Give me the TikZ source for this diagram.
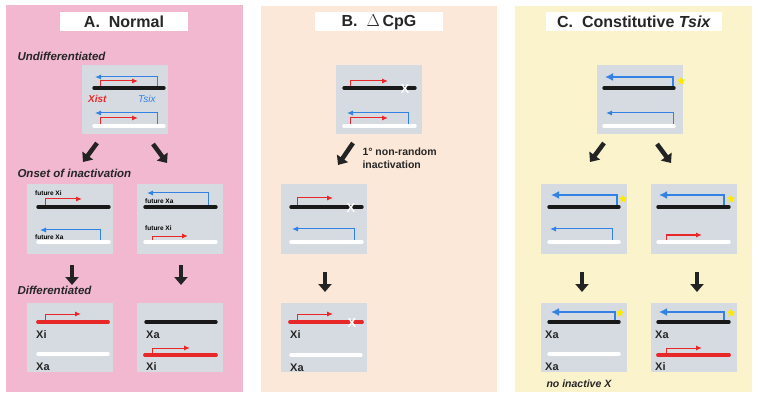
\documentclass[tikz,border=0pt]{standalone}
\usepackage{fontspec}
\setmainfont{Liberation Sans}
\usetikzlibrary{arrows.meta,positioning,calc,shapes.geometric}
\definecolor{pinkbg}{RGB}{241,184,208}
\definecolor{peachbg}{RGB}{252,232,216}
\definecolor{yellowbg}{RGB}{251,243,204}
\definecolor{boxgray}{RGB}{214,219,226}
\definecolor{xred}{RGB}{232,40,40}
\definecolor{tblue}{RGB}{50,130,230}
\definecolor{darkarr}{RGB}{35,35,35}

\begin{document}
\begin{tikzpicture}[
			x=1pt, y=-1pt,
			title/.style={fill=white, minimum width=128pt, minimum height=19pt, inner sep=0pt, font=\fontsize{16}{16}\selectfont\bfseries, text=black!85},
			gbox/.style={fill=boxgray, minimum width=86pt, minimum height=69pt, inner sep=0pt},
			stage/.style={anchor=west, font=\fontsize{11.5}{11.5}\selectfont\bfseries\itshape, text=black!85},
			chrb/.style={line width=3.4pt, line cap=round, black!90},
			chrw/.style={line width=3.4pt, line cap=round, white},
			chrr/.style={line width=3.8pt, line cap=round, xred},
			xist/.style={xred, line width=1pt, -{Latex[length=6pt,width=5pt]}},
			tsix/.style={tblue, line width=1pt, -{Latex[length=6pt,width=5pt]}},
			tsixon/.style={tblue, line width=2.6pt, -{Latex[length=8pt,width=8pt]}},
			bigarrow/.style={darkarr, line width=4.5pt, -{Triangle[length=8pt,width=13pt]}},
			tiny/.style={anchor=west, font=\fontsize{6.5}{6.5}\selectfont\bfseries, inner sep=0pt},
			xlab/.style={anchor=west, font=\fontsize{11}{11}\selectfont\bfseries, text=black!85, inner sep=0pt},
			cut/.style={font=\fontsize{13}{13}\selectfont\bfseries, text=white, inner sep=0pt},
			enh/.style={star, star points=5, star point ratio=2.2, fill=yellow!90!orange, draw=none, minimum size=9pt, inner sep=0pt}
		]

		\useasboundingbox (0,0) rectangle (762,403);

		% panels
		\fill[pinkbg] (6,5) rectangle (243,392);
		\fill[peachbg] (261,6) rectangle (497,392);
		\fill[yellowbg] (515,6) rectangle (752,392);

		\node[title] (ta) at (124,22) {A.\ \ Normal};
		\node[title] (tb) at (379,22) {B.\ \ $\Delta$\,CpG};
		\node[title, minimum width=176pt] (tc) at (634,22) {C.\ \ Constitutive \textit{Tsix}};

		% A. Normal
		\node[stage] (lu) at (14,56) {Undifferentiated};
		\node[stage] (lo) at (14,173) {Onset of inactivation};
		\node[stage] (ld) at (14,290) {Differentiated};

		\node[gbox] (a1) at (125,100) {};
		\draw[tsix] (157,88) |- (95,77);
		\draw[xist] (100,88) |- (138,81);
		\draw[chrb] (94,88) -- (164,88);
		\node[anchor=west, inner sep=0pt, text=xred, font=\fontsize{10}{10}\selectfont\bfseries\itshape] (gx) at (88,99) {Xist};
		\node[anchor=west, inner sep=0pt, text=tblue, font=\fontsize{10}{10}\selectfont\itshape] (gt) at (138,99) {Tsix};
		\draw[tsix] (157,126) |- (95,113);
		\draw[xist] (100,126) |- (138,118);
		\draw[chrw] (94,126) -- (164,126);

		\node[gbox] (a2) at (70,219) {};
		\node[tiny] (fa1) at (35,193) {future Xi};
		\draw[xist] (45,207) |- (82,199);
		\draw[chrb] (38,207) -- (109,207);
		\draw[tsix] (100,242) |- (40,230);
		\node[tiny] (fa2) at (35,237) {future Xa};
		\draw[chrw] (38,242) -- (109,242);

		\node[gbox] (a3) at (180,219) {};
		\draw[tsix] (208,207) |- (147,193);
		\node[tiny] (fa3) at (145,201) {future Xa};
		\draw[chrb] (145,207) -- (216,207);
		\node[tiny] (fa4) at (145,228) {future Xi};
		\draw[xist] (152,242) |- (188,236);
		\draw[chrw] (145,242) -- (216,242);

		\node[gbox] (a4) at (70,337) {};
		\draw[xist] (45,322) |- (81,314);
		\draw[chrr] (38,322) -- (108,322);
		\node[xlab] (xa1) at (36,335) {Xi};
		\draw[chrw] (38,354) -- (108,354);
		\node[xlab] (xa2) at (36,367) {Xa};

		\node[gbox] (a5) at (180,337) {};
		\draw[chrb] (146,322) -- (216,322);
		\node[xlab] (xa3) at (146,335) {Xa};
		\draw[xist] (152,355) |- (190,348);
		\draw[chrr] (145,355) -- (216,355);
		\node[xlab] (xa4) at (146,367) {Xi};

		\draw[bigarrow] (97,143) -- (83,162);
		\draw[bigarrow] (153,144) -- (167,163);
		\draw[bigarrow] (72,265) -- (72,285);
		\draw[bigarrow] (181,265) -- (181,285);

		% B. Delta CpG
		\node[gbox] (b1) at (379,100) {};
		\draw[xist] (350,88) |- (388,81);
		\draw[chrb] (344,88) -- (415,88);
		\node[cut] (xb1) at (405,89) {X};
		\draw[tsix] (408,126) |- (347,113);
		\draw[xist] (350,126) |- (388,118);
		\draw[chrw] (344,126) -- (415,126);

		\draw[bigarrow] (353,143) -- (338,165);
		\node[anchor=west, align=left, font=\fontsize{10.5}{12.5}\selectfont\bfseries, text=black!85] (nr) at (359,158) {1° non-random\\inactivation};

		\node[gbox] (b2) at (324,219) {};
		\draw[xist] (297,207) |- (333,198);
		\draw[chrb] (291,207) -- (362,207);
		\node[cut] (xb2) at (351,208) {X};
		\draw[tsix] (354,242) |- (292,229);
		\draw[chrw] (291,242) -- (362,242);

		\draw[bigarrow] (325,272) -- (325,292);

		\node[gbox] (b3) at (324,337) {};
		\draw[xist] (297,322) |- (333,314);
		\draw[chrr] (290,322) -- (362,322);
		\node[cut] (xb3) at (352,323) {X};
		\node[xlab] (xb4) at (290,335) {Xi};
		\draw[chrw] (291,355) -- (361,355);
		\node[xlab] (xb5) at (290,368) {Xa};

		% C. Constitutive Tsix
		\node[gbox] (c1) at (640,100) {};
		\draw[tsixon] (673,88) |- (605,77);
		\draw[chrb] (604,88) -- (674,88);
		\node[enh] (s1) at (681,81) {};
		\draw[tsix] (673,126) |- (606,113);
		\draw[chrw] (604,126) -- (674,126);

		\draw[bigarrow] (604,143) -- (590,162);
		\draw[bigarrow] (657,144) -- (671,163);

		\node[gbox] (c2) at (584,219) {};
		\draw[tsixon] (617,207) |- (551,195);
		\draw[chrb] (549,207) -- (619,207);
		\node[enh] (s2) at (623,199) {};
		\draw[tsix] (612,242) |- (550,229);
		\draw[chrw] (549,242) -- (619,242);

		\node[gbox] (c3) at (694,219) {};
		\draw[tsixon] (724,207) |- (659,195);
		\draw[chrb] (658,207) -- (729,207);
		\node[enh] (s3) at (731,199) {};
		\draw[xist] (666,242) |- (702,235);
		\draw[chrw] (658,242) -- (729,242);

		\draw[bigarrow] (582,272) -- (582,292);
		\draw[bigarrow] (697,272) -- (697,292);

		\node[gbox] (c4) at (584,337) {};
		\draw[tsixon] (615,322) |- (551,312);
		\draw[chrb] (549,322) -- (619,322);
		\node[enh] (s4) at (620,313) {};
		\node[xlab] (xc1) at (545,335) {Xa};
		\draw[chrw] (549,354) -- (619,354);
		\node[xlab] (xc2) at (545,367) {Xa};
		\node[stage, font=\fontsize{10.5}{10.5}\selectfont\bfseries\itshape] (ni) at (543,384) {no inactive X};

		\node[gbox] (c5) at (694,337) {};
		\draw[tsixon] (724,322) |- (659,312);
		\draw[chrb] (658,322) -- (729,322);
		\node[enh] (s5) at (731,313) {};
		\node[xlab] (xc3) at (655,335) {Xa};
		\draw[xist] (666,355) |- (702,348);
		\draw[chrr] (658,355) -- (729,355);
		\node[xlab] (xc4) at (655,367) {Xi};

	\end{tikzpicture}
\end{document}
